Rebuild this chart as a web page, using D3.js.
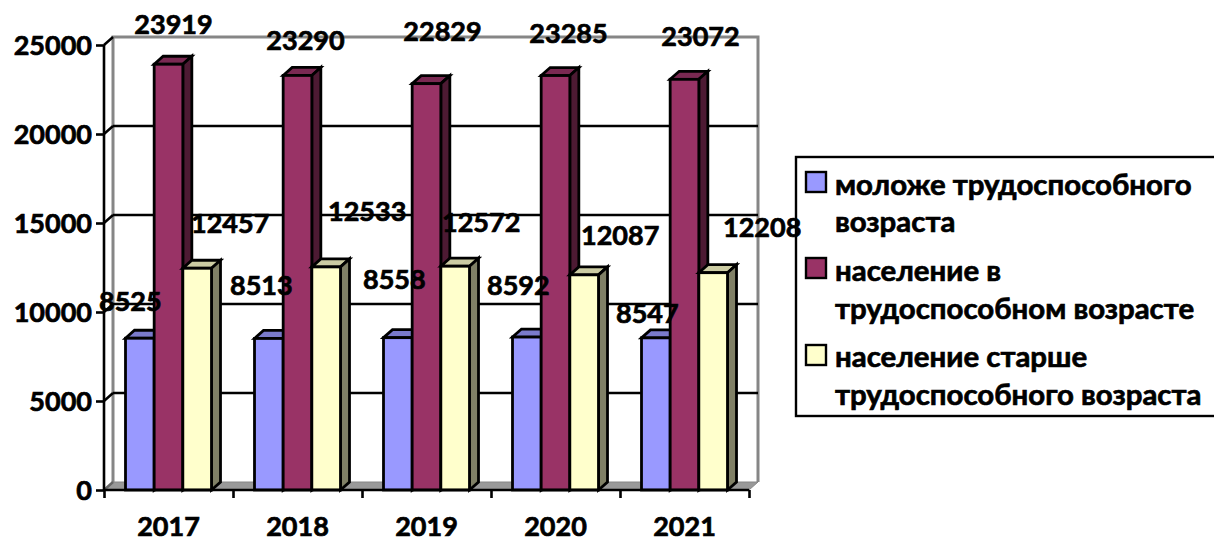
<!DOCTYPE html>
<html><head><meta charset="utf-8">
<script src="https://cdn.jsdelivr.net/npm/d3@7"></script>
<style>html,body{margin:0;background:#fff}svg{display:block}text{font-family:Lato,"Open Sans",sans-serif;font-weight:700;fill:#000;stroke:#000;stroke-width:.7px}</style>
</head><body><div id="c"></div>
<script>
const years=["2017","2018","2019","2020","2021"];
const seriesNames=["моложе трудоспособного возраста","население в трудоспособном возрасте","население старше трудоспособного возраста"];
const young=[8525,8513,8558,8592,8547];
const working=[23919,23290,22829,23285,23072];
const old=[12457,12533,12572,12087,12208];
const yTicks=[0,5000,10000,15000,20000,25000];
const fronts=["#9999ff","#993366","#ffffcc"];
const tops=["#7a7acc","#7a2952","#cccca3"];
const sides=["#5c5c99","#4d1a33","#808066"];
const legendLines=[["моложе трудоспособного","возраста"],["население в","трудоспособном возрасте"],["население старше","трудоспособного возраста"]];
// hand-placed label offsets from the top of each bar
const labelDx=[[-9.5,-7.5,-3.5,-8.5,-8.5],[5,8,16,13,16],[33,41,26,36,49]];
const labelDy=[[-27,-43,-49,-42,-15],[-30,-25,-43,-33,-33],[-35,-46,-34,-30,-36]];
const W=1214,H=538,dx=9,dy=-8,fs=27,lfs=29.4;
const svg=d3.select("#c").append("svg").attr("width",W).attr("height",H);
const x=d3.scaleBand().domain(years).range([104,749]).paddingInner(1/3).paddingOuter(1/6);
const xOuter=d3.scaleBand().domain(years).range([104,749]);
const xi=d3.scaleBand().domain([0,1,2]).range([0,x.bandwidth()]);
const y=d3.scaleLinear().domain([0,25000]).range([490,45]);
const data=[young,working,old];
// back wall
svg.append("path").attr("d",`M${104+dx},${y(0)+dy}V${y(25000)+dy}H${749+dx}V${y(0)+dy}`).attr("fill","none").attr("stroke","#868686").attr("stroke-width",3);
svg.append("path").attr("d",`M104,${y(0)}L${104+dx},${y(0)+dy}H${749+dx}L749,${y(0)}Z`).attr("fill","#999").attr("stroke","#868686");
// gridlines
svg.selectAll(".g").data(yTicks.slice(1,-1)).join("line").attr("x1",104+dx).attr("x2",749+dx).attr("y1",d=>y(d)+dy).attr("y2",d=>y(d)+dy).attr("stroke","#000").attr("stroke-width",2.6);
svg.selectAll(".d").data(yTicks).join("line").attr("x1",104).attr("x2",104+dx).attr("y1",d=>y(d)).attr("y2",d=>y(d)+dy).attr("stroke",d=>d?"#000":"#666").attr("stroke-width",2.4);
// bars
years.forEach((yr,i)=>{
  data.forEach((vals,s)=>{
    const x0=x(yr)+xi(s),w=xi.bandwidth(),t=y(vals[i]),b=y(0);
    const g=svg.append("g").attr("stroke","#000").attr("stroke-width",2.8);
    g.append("path").attr("fill",tops[s]).attr("d",`M${x0},${t}l${dx},${dy}h${w}l${-dx},${-dy}Z`);
    g.append("path").attr("fill",sides[s]).attr("d",`M${x0+w},${t}l${dx},${dy}V${b+dy}l${-dx},${-dy}Z`);
    g.append("rect").attr("x",x0).attr("y",t).attr("width",w).attr("height",b-t).attr("fill",fronts[s]);
  });
});
// axes
const yAxis=d3.axisLeft(y).tickValues(yTicks).tickSize(8).tickPadding(4).tickFormat(d3.format("d"));
const ga=svg.append("g").attr("transform","translate(104,0)").call(yAxis);
ga.selectAll("path,line").attr("stroke","#000").attr("stroke-width",2.6);
ga.select(".domain").attr("d",`M0,${y(25000)}V${y(0)}`);
ga.selectAll("text").attr("font-size",fs).attr("dy","0.36em").attr("font-family",null);
const xAxis=d3.axisBottom(d3.scalePoint().domain(d3.range(6)).range([104,749])).tickSize(8).tickFormat("");
const gb=svg.append("g").attr("transform",`translate(0,${y(0)})`).call(xAxis);
gb.selectAll("path,line").attr("stroke","#000").attr("stroke-width",2.6);
gb.select(".domain").attr("d","M104,0H749");
svg.selectAll(".cat").data(years).join("text").attr("x",d=>xOuter(d)+xOuter.bandwidth()/2).attr("y",536).attr("text-anchor","middle").attr("font-size",fs).text(d=>d);
// value labels
data.forEach((vals,s)=>{
  svg.selectAll(".v"+s).data(vals).join("text").attr("text-anchor","middle").attr("font-size",fs)
    .attr("x",(d,i)=>x(years[i])+xi(s)+xi.bandwidth()/2+labelDx[s][i])
    .attr("y",(d,i)=>y(d)+labelDy[s][i]).text(d=>d);
});
// legend
svg.append("rect").attr("x",796).attr("y",157).attr("width",430).attr("height",259).attr("fill","none").attr("stroke","#000").attr("stroke-width",2.4);
const swY=[172,258,345],base=[[195,232],[281,319],[367,405]];
seriesNames.forEach((n,s)=>{
  svg.append("rect").attr("x",806).attr("y",swY[s]).attr("width",20).attr("height",20).attr("fill",fronts[s]).attr("stroke","#000").attr("stroke-width",2.4);
  legendLines[s].forEach((l,j)=>svg.append("text").attr("x",835).attr("y",base[s][j]).attr("font-size",lfs).text(l));
});
</script></body></html>
